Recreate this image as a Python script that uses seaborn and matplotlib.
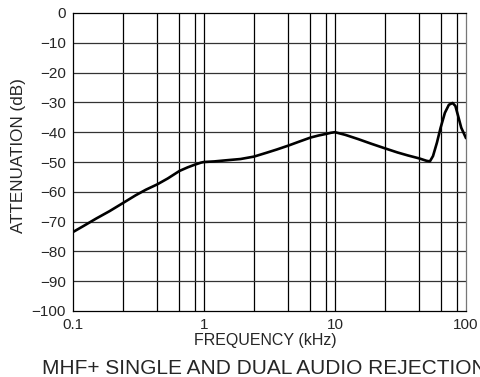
import numpy as np
import pandas as pd
import matplotlib
matplotlib.use("Agg")
import matplotlib.pyplot as plt
import seaborn as sns

# curve
freq_khz = [0.1, 0.12, 0.15, 0.19, 0.24, 0.3, 0.36, 0.44, 0.53, 0.65, 0.75, 0.85, 0.95,
            1.0, 1.2, 1.5, 1.9, 2.4, 3.0, 3.6, 4.4, 5.3, 6.5, 7.5, 8.5, 9.3, 10,
            12, 15, 19, 24, 30, 36, 44, 50, 53, 56, 60, 64, 69, 74, 79, 83, 87, 92, 100]
atten_db = [-73.5, -71.5, -69, -66.5, -63.8, -61.2, -59.3, -57.5, -55.5, -53, -51.8, -50.9, -50.2,
            -50, -49.8, -49.4, -49, -48.2, -46.9, -45.8, -44.5, -43.2, -41.8, -41.1, -40.6, -40.2, -40,
            -40.9, -42.3, -43.9, -45.4, -46.8, -47.8, -48.8, -49.6, -49.8, -48, -43.5, -38.5, -33.5, -30.8, -30.2, -31.2, -34.5, -38.5, -42]

x_ticks = [0.1, 1, 10, 100]
x_tick_labels = ["0.1", "1", "10", "100"]
y_ticks = list(range(-100, 1, 10))
y_tick_labels = ["\u2212100", "\u221290", "\u221280", "\u221270", "\u221260", "\u221250",
                 "\u221240", "\u221230", "\u221220", "\u221210", "0"]
# vertical grid lines as drawn in the chart (not the usual 2,4,6,8)
grid_freqs = [0.24, 0.44, 0.65, 0.85, 2.4, 4.4, 6.5, 8.5, 24, 44, 65, 85]

sns.set_style("white")
plt.rcParams['font.family'] = ['Liberation Sans', 'DejaVu Sans']

df = pd.DataFrame({"freq": freq_khz, "atten": atten_db})

fig = plt.figure(figsize=(4.81, 3.77), dpi=100)
ax = fig.add_axes([73 / 481, 1 - 311 / 377, (466 - 73) / 481, (311 - 13) / 377])

ax.set_xscale("log")
ax.set_xlim(0.1, 100)
ax.set_ylim(-100, 0)

for g in grid_freqs + [1, 10]:
    ax.axvline(g, color="black", lw=0.9, zorder=1)
for yv in y_ticks[1:-1]:
    ax.axhline(yv, color="#333333", lw=0.9, zorder=1)

sns.lineplot(data=df, x="freq", y="atten", ax=ax, color="black", lw=1.9, zorder=3)

ax.set_xticks(x_ticks)
ax.set_xticklabels(x_tick_labels)
ax.xaxis.set_minor_locator(matplotlib.ticker.NullLocator())
ax.set_yticks(y_ticks)
ax.set_yticklabels(y_tick_labels)
ax.tick_params(axis="both", length=0, labelsize=11)
ax.tick_params(axis="x", pad=5)
ax.tick_params(axis="y", pad=5)

for s in ax.spines.values():
    s.set_color("black")
    s.set_linewidth(0.9)
ax.spines["right"].set_color("#777777")

ax.set_xlabel("FREQUENCY (kHz)", fontsize=11.5)
ax.xaxis.set_label_coords(0.489, -0.075)
ax.set_ylabel("ATTENUATION (dB)", fontsize=12.3)
ax.yaxis.set_label_coords(-0.12, 0.523)

fig.text(42.5 / 481, 1 - 368 / 377, "MHF+ SINGLE AND DUAL AUDIO REJECTION",
         fontsize=15, ha="left", va="center")

fig.savefig("out.png", dpi=100)
